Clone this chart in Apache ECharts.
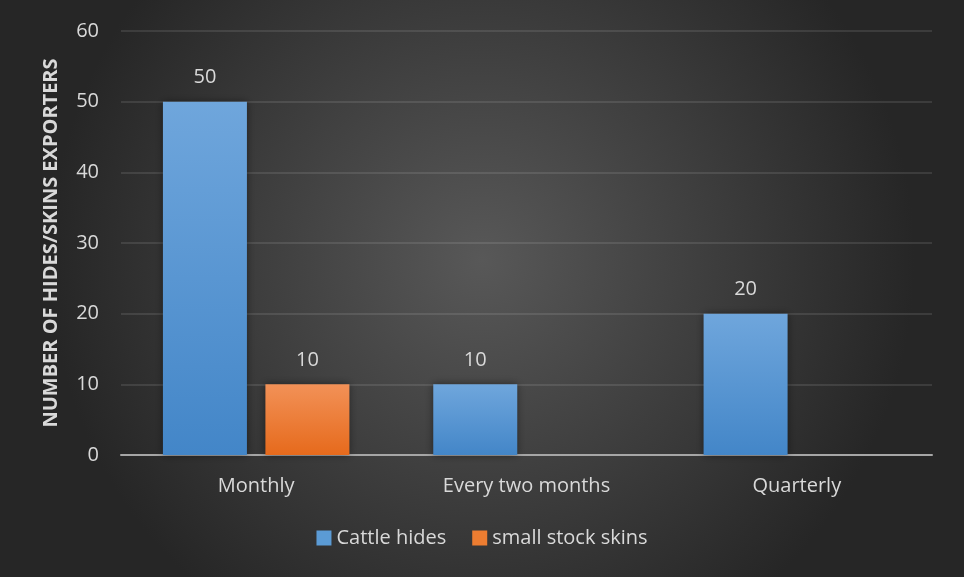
<!DOCTYPE html>
<html>
<head>
<meta charset="utf-8">
<script src="https://cdn.jsdelivr.net/npm/echarts@6/dist/echarts.min.js"></script>
<style>
  html, body { margin: 0; padding: 0; background: #2b2b2b; }
  #chart { width: 964px; height: 577px; }
</style>
</head>
<body>
<div id="chart"></div>
<script>
// Export frequency categories and exporter counts
const categories = ['Monthly', 'Every two months', 'Quarterly'];
const cattleHides = [50, 10, 20];
const smallStockSkins = [10, null, null];
const seriesNames = ['Cattle hides', 'small stock skins'];

const FONT = '"Open Sans", "Noto Sans", sans-serif';
const textColor = '#d9d9d9';

function barGradient(top, bottom) {
  return new echarts.graphic.LinearGradient(0, 0, 0, 1, [
    { offset: 0, color: top },
    { offset: 1, color: bottom }
  ]);
}

const chart = echarts.init(document.getElementById('chart'));
chart.setOption({
  animation: false,
  backgroundColor: new echarts.graphic.RadialGradient(0.5, 0.45, 0.75, [
    { offset: 0, color: '#585858' },
    { offset: 1, color: '#262626' }
  ]),
  textStyle: { fontFamily: FONT },
  grid: { left: 121, right: 32, top: 31, bottom: 122 },
  legend: {
    bottom: 24,
    left: 'center',
    itemWidth: 15,
    itemHeight: 15,
    itemGap: 26,
    icon: 'rect',
    textStyle: { color: textColor, fontSize: 20, fontFamily: FONT },
    data: [
      { name: seriesNames[0], itemStyle: { color: '#5b9bd5' } },
      { name: seriesNames[1], itemStyle: { color: '#ed7d31' } }
    ]
  },
  xAxis: {
    type: 'category',
    data: categories,
    axisLine: { show: true, lineStyle: { color: '#a6a6a6', width: 2 } },
    axisTick: { show: false },
    axisLabel: { color: textColor, fontSize: 20, margin: 21, fontFamily: FONT }
  },
  yAxis: {
    type: 'value',
    min: 0,
    max: 60,
    interval: 10,
    name: 'NUMBER OF HIDES/SKINS EXPORTERS',
    nameLocation: 'middle',
    nameGap: 60,
    nameTextStyle: { color: textColor, fontSize: 20, fontWeight: 'bold', fontFamily: FONT },
    axisLine: { show: false },
    axisTick: { show: false },
    axisLabel: { color: textColor, fontSize: 20, margin: 22, fontFamily: FONT },
    splitLine: { lineStyle: { color: 'rgba(255,255,255,0.1)', width: 2 } }
  },
  series: [
    {
      name: seriesNames[0],
      type: 'bar',
      data: cattleHides,
      barWidth: 84,
      barGap: '22%',
      itemStyle: {
        color: barGradient('#6fa6dc', '#4386c8'),
        shadowColor: 'rgba(0,0,0,0.45)',
        shadowBlur: 8
      },
      label: { show: true, position: 'top', distance: 14, color: textColor, fontSize: 20, fontFamily: FONT }
    },
    {
      name: seriesNames[1],
      type: 'bar',
      data: smallStockSkins,
      barWidth: 84,
      barGap: '22%',
      itemStyle: {
        color: barGradient('#f29157', '#e66a1c'),
        shadowColor: 'rgba(0,0,0,0.45)',
        shadowBlur: 8
      },
      label: { show: true, position: 'top', distance: 14, color: textColor, fontSize: 20, fontFamily: FONT }
    }
  ]
});
</script>
</body>
</html>
